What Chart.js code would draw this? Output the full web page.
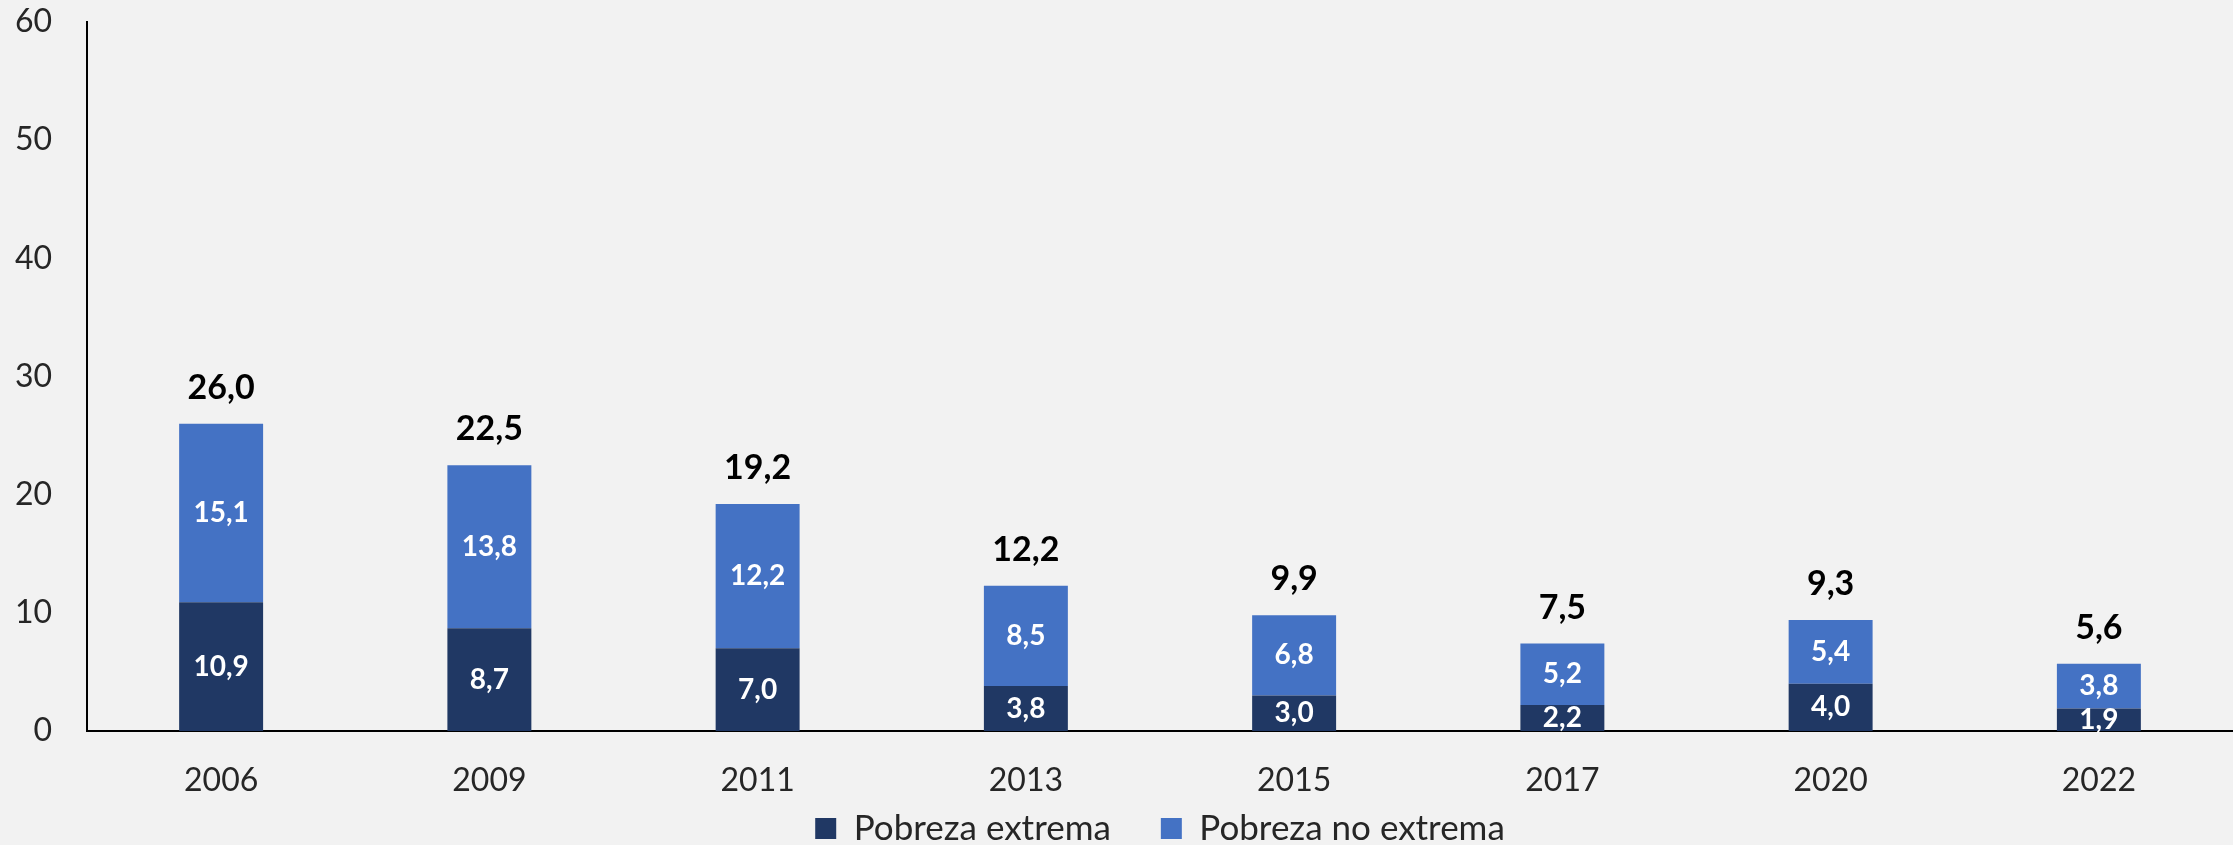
<!DOCTYPE html>
<html lang="es">
<head>
<meta charset="utf-8">
<title>Pobreza</title>
<script src="https://cdn.jsdelivr.net/npm/chart.js@4.4.1/dist/chart.umd.min.js"></script>
<style>
	html, body { margin: 0; padding: 0; background: #f2f2f2; }
	#wrap { width: 2233px; height: 845px; position: relative; }
</style>
</head>
<body>
<div id="wrap"><canvas id="pobrezaChart"></canvas></div>
<script>
const years = ['2006', '2009', '2011', '2013', '2015', '2017', '2020', '2022'];
const extrema = [10.9, 8.7, 7.0, 3.8, 3.0, 2.2, 4.0, 1.9];
const noExtrema = [15.1, 13.8, 12.2, 8.5, 6.8, 5.2, 5.4, 3.8];
const totales = [26.0, 22.5, 19.2, 12.2, 9.9, 7.5, 9.3, 5.6];
const yTicks = [0, 10, 20, 30, 40, 50, 60];

const fmt = (v) => v.toFixed(1).replace('.', ',');

// values inside segments and totals above each stack
const barLabels = {
	id: 'barLabels',
	afterDatasetsDraw(chart) {
		const ctx = chart.ctx;
		ctx.save();
		ctx.textAlign = 'center';
		ctx.textBaseline = 'middle';
		ctx.fillStyle = '#ffffff';
		ctx.font = 'bold 28px Lato';
		chart.data.datasets.forEach((ds, d) => {
			chart.getDatasetMeta(d).data.forEach((bar, i) => {
				ctx.fillText(fmt(ds.data[i]), bar.x, (bar.y + bar.base) / 2);
			});
		});
		ctx.fillStyle = '#000000';
		ctx.font = 'bold 34px Lato';
		chart.getDatasetMeta(1).data.forEach((bar, i) => {
			ctx.fillText(fmt(totales[i]), bar.x, bar.y - 36);
		});
		ctx.restore();
	}
};

const tickFont = { family: 'Lato', size: 32 };

const pobrezaData = {
	type: 'bar',
	data: {
		labels: years,
		datasets: [
			{
				label: 'Pobreza extrema',
				data: extrema,
				backgroundColor: '#203864',
			},
			{
				label: 'Pobreza no extrema',
				data: noExtrema,
				backgroundColor: '#4472c4',
			},
		],
	},
	options: {
		responsive: true,
		maintainAspectRatio: false,
		animation: false,
		layout: { padding: { top: 22, left: 0, right: 0, bottom: -11 } },
		datasets: {
			bar: { categoryPercentage: 1, barPercentage: 0.313 },
		},
		scales: {
			x: {
				stacked: true,
				grid: { display: false, drawTicks: false },
				border: { color: '#000000', width: 2 },
				ticks: { color: '#262626', font: tickFont, padding: 30 },
				afterFit: (s) => {
					s.height = 30;
					// let the year labels spill into the legend band
					s._computeLabelArea = () => null;
				},
			},
			y: {
				stacked: true,
				min: 0,
				max: 60,
				grid: { display: false, drawTicks: false },
				border: { color: '#000000', width: 2 },
				ticks: { color: '#262626', font: tickFont, padding: 35 },
				afterBuildTicks: (s) => { s.ticks = yTicks.map((v) => ({ value: v })); },
				afterFit: (s) => {
					s.width = 87;
					s.paddingTop = 0;
					s.paddingBottom = 0;
				},
			},
		},
		plugins: {
			legend: {
				position: 'bottom',
				fullSize: false,
				labels: {
					boxWidth: 21,
					boxHeight: 21,
					padding: 50,
					color: '#262626',
					font: { family: 'Lato', size: 35 },
				},
			},
			tooltip: { enabled: false },
		},
	},
	plugins: [barLabels],
};

(() => {
	new Chart(document.getElementById('pobrezaChart'), pobrezaData);
})();
</script>
</body>
</html>
